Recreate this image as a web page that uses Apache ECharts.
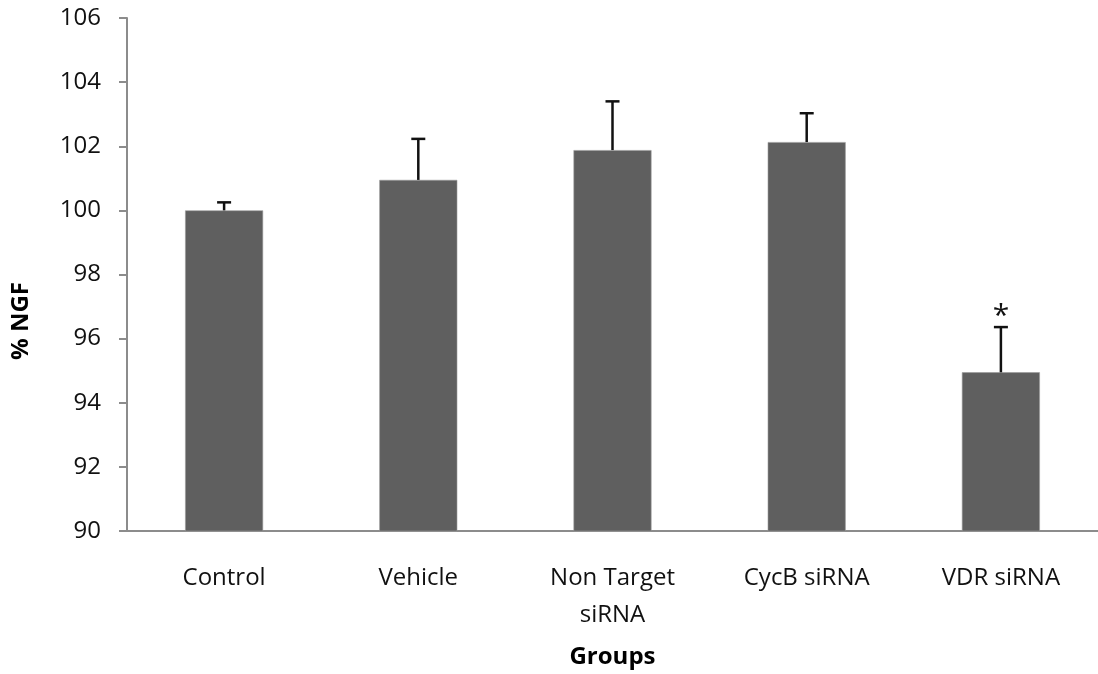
<!DOCTYPE html>
<html>
<head>
<meta charset="utf-8">
<script src="https://cdn.jsdelivr.net/npm/echarts@6/dist/echarts.min.js"></script>
<style>html,body{margin:0;padding:0;background:#fff;overflow:hidden;}#chart{width:1098px;height:674px;overflow:hidden;}</style>
</head>
<body>
<div id="chart"></div>
<script>
var categories = ['Control', 'Vehicle', 'Non Target\nsiRNA', 'CycB siRNA', 'VDR siRNA'];
var means = [100.0, 100.95, 101.88, 102.13, 94.95];
var errors = [0.25, 1.28, 1.52, 0.9, 1.41];
var significance = ['', '', '', '', '*'];
var yTicks = { min: 90, max: 106, interval: 2 };

var chart = echarts.init(document.getElementById('chart'));
var FONT = 'Open Sans';
var errData = categories.map(function (c, i) { return [i, means[i], means[i] + errors[i], significance[i]]; });

chart.setOption({
  animation: false,
  grid: { left: 127, top: 18, width: 980, bottom: 138 },
  xAxis: {
    type: 'category',
    data: categories,
    name: 'Groups',
    nameLocation: 'middle',
    nameGap: 114,
    nameTextStyle: { fontFamily: FONT, fontWeight: 'bold', fontSize: 24, color: '#000' },
    axisLine: { lineStyle: { color: '#8c8c8c', width: 2 } },
    axisTick: { length: 10, lineStyle: { color: '#8c8c8c', width: 2 } },
    axisLabel: { fontFamily: FONT, fontSize: 24, color: '#111', margin: 29, lineHeight: 37 }
  },
  yAxis: {
    type: 'value',
    min: yTicks.min, max: yTicks.max, interval: yTicks.interval,
    splitLine: { show: false },
    axisLine: { show: true, lineStyle: { color: '#8c8c8c', width: 2 } },
    axisTick: { show: true, length: 8, lineStyle: { color: '#8c8c8c', width: 2 } },
    axisLabel: { fontFamily: FONT, fontSize: 24, color: '#111', margin: 26 }
  },
  graphic: [{
    type: 'text', left: 9, top: 282,
    rotation: Math.PI / 2,
    style: { text: '% NGF', font: 'bold 24px "Open Sans"', fill: '#000' }
  }],
  series: [{
    type: 'bar',
    data: means,
    barWidth: 78,
    itemStyle: { color: '#5f5f5f', borderColor: '#9a9a9a', borderWidth: 0.6 }
  }, {
    type: 'custom',
    data: errData,
    z: 5,
    renderItem: function (params, api) {
      var base = api.coord([api.value(0), api.value(1)]);
      var top = api.coord([api.value(0), api.value(2)]);
      var cap = 7;
      var sig = significance[params.dataIndex];
      var children = [
        { type: 'line', shape: { x1: top[0], y1: base[1], x2: top[0], y2: top[1] }, style: { stroke: '#111', lineWidth: 2.5 } },
        { type: 'line', shape: { x1: top[0] - cap, y1: top[1], x2: top[0] + cap, y2: top[1] }, style: { stroke: '#111', lineWidth: 2.5 } }
      ];
      if (sig) {
        children.push({ type: 'text', x: top[0], y: top[1] + 4, style: { text: sig, font: '30px "Open Sans"', fill: '#111', align: 'center', verticalAlign: 'bottom' } });
      }
      return { type: 'group', children: children };
    }
  }]
});
</script>
</body>
</html>
